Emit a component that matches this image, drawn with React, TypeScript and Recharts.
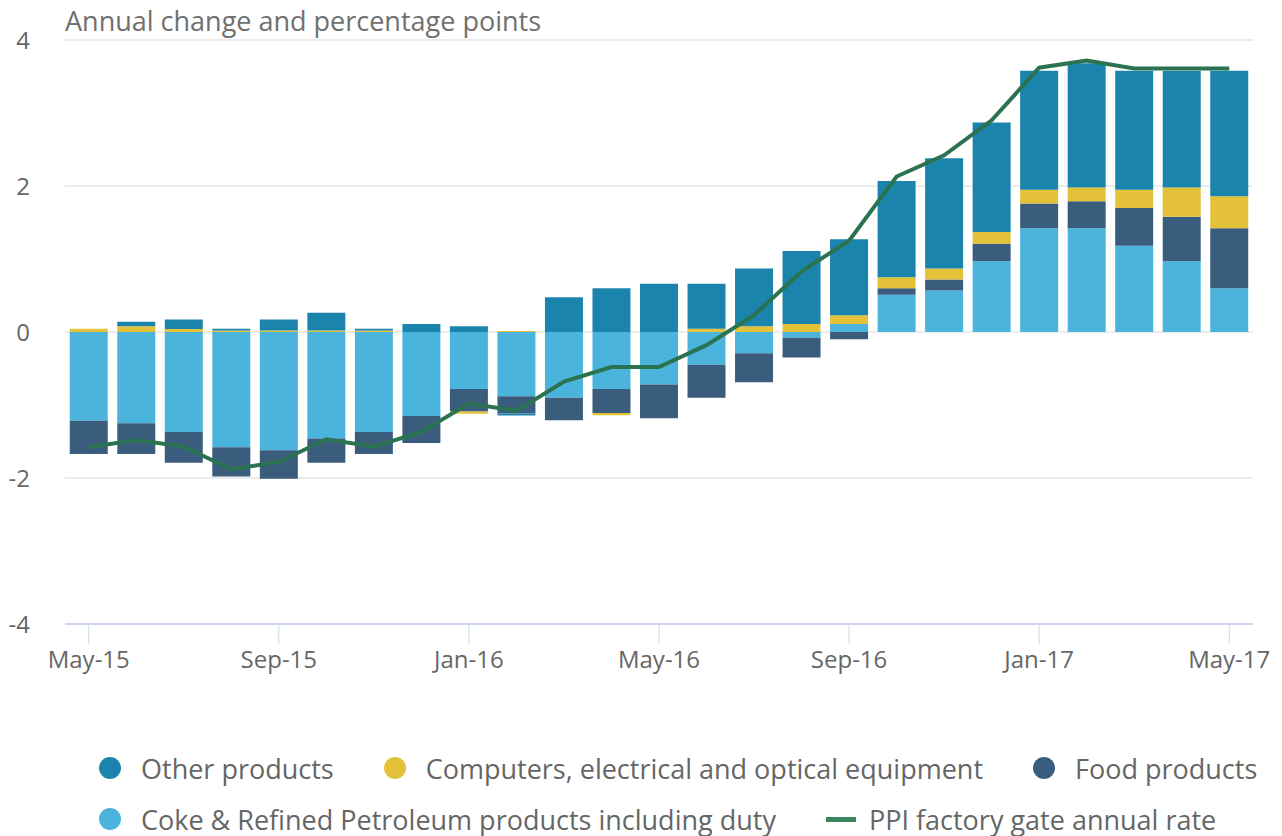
import React from "react";
import {
  ComposedChart,
  Bar,
  Line,
  XAxis,
  YAxis,
  CartesianGrid,
  Legend,
} from "recharts";

const months = [
  "May-15", "Jun-15", "Jul-15", "Aug-15", "Sep-15", "Oct-15", "Nov-15", "Dec-15",
  "Jan-16", "Feb-16", "Mar-16", "Apr-16", "May-16", "Jun-16", "Jul-16", "Aug-16",
  "Sep-16", "Oct-16", "Nov-16", "Dec-16", "Jan-17", "Feb-17", "Mar-17", "Apr-17", "May-17",
];

const otherProducts = [
  0, 0.06, 0.13, 0.025, 0.15, 0.245, 0.025, 0.11,
  0.08, -0.03, 0.475, 0.6, 0.66, 0.615, 0.79, 1.0,
  1.04, 1.32, 1.51, 1.5, 1.63, 1.7, 1.63, 1.6, 1.72,
];

const computers = [
  0.045, 0.08, 0.04, 0.02, 0.02, 0.02, 0.02, 0,
  -0.03, 0.015, 0, -0.03, 0, 0.045, 0.08, 0.11,
  0.12, 0.15, 0.15, 0.16, 0.19, 0.19, 0.25, 0.4, 0.44,
];

const foodProducts = [
  -0.455, -0.42, -0.42, -0.4, -0.39, -0.33, -0.3, -0.37,
  -0.31, -0.235, -0.31, -0.33, -0.46, -0.45, -0.4, -0.27,
  -0.1, 0.09, 0.15, 0.24, 0.34, 0.37, 0.52, 0.61, 0.82,
];

const cokePetroleum = [
  -1.215, -1.25, -1.37, -1.58, -1.62, -1.46, -1.37, -1.15,
  -0.78, -0.88, -0.9, -0.78, -0.72, -0.45, -0.29, -0.08,
  0.11, 0.51, 0.57, 0.97, 1.42, 1.42, 1.18, 0.97, 0.6,
];

const ppiRate = [
  -1.58, -1.48, -1.57, -1.88, -1.78, -1.47, -1.57, -1.37,
  -0.98, -1.08, -0.68, -0.48, -0.48, -0.18, 0.23, 0.83,
  1.25, 2.13, 2.42, 2.9, 3.62, 3.72, 3.61, 3.61, 3.61,
];

const yTicks = [-4, -2, 0, 2, 4];

const data = months.map((m, i) => ({
  month: m,
  other: otherProducts[i],
  computers: computers[i],
  food: foodProducts[i],
  coke: cokePetroleum[i],
  ppi: ppiRate[i],
}));

const COLORS = {
  other: "#1a84ad",
  computers: "#e3c23a",
  food: "#3a5d7e",
  coke: "#4ab4dc",
  ppi: "#2b7350",
};

const FONT = "'Open Sans', sans-serif";
const TEXT = "#666666";

const legendRows = [
  [
    { label: "Other products", color: COLORS.other, type: "circle" },
    { label: "Computers, electrical and optical equipment", color: COLORS.computers, type: "circle" },
    { label: "Food products", color: COLORS.food, type: "circle" },
  ],
  [
    { label: "Coke & Refined Petroleum products including duty", color: COLORS.coke, type: "circle" },
    { label: "PPI factory gate annual rate", color: "#3a8560", type: "line" },
  ],
];

const LegendContent = () => (
  <div
    style={{
      height: 83,
      paddingLeft: 91,
      fontFamily: FONT,
      fontSize: 27,
      color: TEXT,
      boxSizing: "border-box",
    }}
  >
    {legendRows.map((row, ri) => (
      <div
        key={ri}
        style={{
          display: "flex",
          alignItems: "center",
          height: 30,
          marginTop: ri === 0 ? 0 : 21,
          whiteSpace: "nowrap",
        }}
      >
        {row.map((item, ii) => (
          <div
            key={ii}
            style={{ display: "flex", alignItems: "center", marginRight: 50 }}
          >
            {item.type === "circle" ? (
              <span
                style={{
                  display: "inline-block",
                  width: 22,
                  height: 22,
                  borderRadius: 11,
                  background: item.color,
                  marginRight: 20,
                }}
              />
            ) : (
              <span
                style={{
                  display: "inline-block",
                  width: 30,
                  height: 5,
                  background: item.color,
                  marginRight: 13,
                }}
              />
            )}
            <span>{item.label}</span>
          </div>
        ))}
      </div>
    ))}
  </div>
);

export default function App() {
  return (
    <div style={{ position: "relative", width: 1266, height: 828, fontFamily: FONT }}>
      <div
        style={{
          position: "absolute",
          left: 57,
          top: -6,
          fontSize: 27,
          color: "#707070",
          whiteSpace: "nowrap",
          zIndex: 2,
        }}
      >
        Annual change and percentage points
      </div>
      <ComposedChart
        width={1266}
        height={828}
        data={data}
        stackOffset="sign"
        barCategoryGap="10%"
        margin={{ top: 32, right: 21, left: 0, bottom: 0 }}
      >
        <CartesianGrid vertical={false} stroke="#e6e6e6" strokeWidth={1.5} />
        <XAxis
          dataKey="month"
          interval={3}
          height={129}
          tickSize={20}
          tickMargin={7}
          axisLine={{ stroke: "#ccd6eb", strokeWidth: 2 }}
          tickLine={{ stroke: "#ccd6eb" }}
          tick={{ fill: TEXT, fontSize: 24, fontFamily: FONT }}
        />
        <YAxis
          domain={[-4, 4]}
          ticks={yTicks}
          width={57}
          axisLine={false}
          tickLine={false}
          tickSize={0}
          tickMargin={35}
          tick={{ fill: TEXT, fontSize: 24, fontFamily: FONT }}
        />
        <Bar dataKey="coke" stackId="a" fill={COLORS.coke} isAnimationActive={false} />
        <Bar dataKey="food" stackId="a" fill={COLORS.food} isAnimationActive={false} />
        <Bar dataKey="computers" stackId="a" fill={COLORS.computers} isAnimationActive={false} />
        <Bar dataKey="other" stackId="a" fill={COLORS.other} isAnimationActive={false} />
        <Line
          dataKey="ppi"
          type="linear"
          stroke={COLORS.ppi}
          strokeWidth={4}
          dot={false}
          activeDot={false}
          isAnimationActive={false}
        />
        <Legend verticalAlign="bottom" align="left" content={<LegendContent />} />
      </ComposedChart>
    </div>
  );
}
